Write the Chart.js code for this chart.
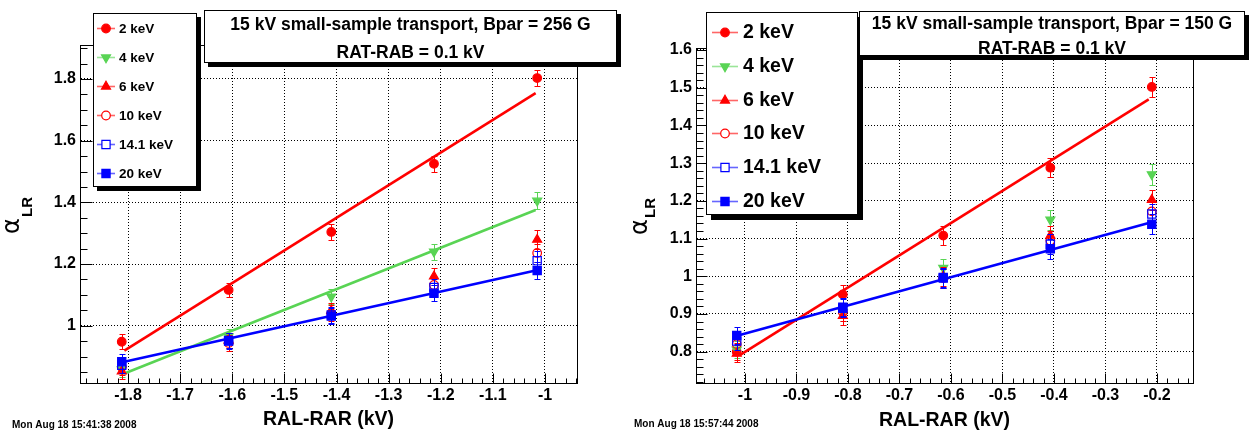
<!DOCTYPE html>
<html><head><meta charset="utf-8">
<script src="https://cdn.jsdelivr.net/npm/chart.js@4.4.1/dist/chart.umd.min.js"></script>
<style>
html,body{margin:0;padding:0;background:#fff;}
#wrap{position:relative;width:1249px;height:432px;overflow:hidden;}
.pane{position:absolute;top:0;height:432px;}
#p1{left:0;width:624px;} #p2{left:624px;width:625px;}
canvas{display:block;}
</style></head><body>
<div id="wrap">
 <div class="pane" id="p1"><canvas id="c1" width="624" height="432"></canvas></div>
 <div class="pane" id="p2"><canvas id="c2" width="625" height="432"></canvas></div>
</div>
<script>
// ---------------- data ----------------
const seriesLabels = ['2 keV', '4 keV', '6 keV', '10 keV', '14.1 keV', '20 keV'];

// Left panel: Bpar = 256 G
const leftTitle = ['15 kV small-sample transport, Bpar = 256 G', 'RAT-RAB = 0.1 kV'];
const leftDate = 'Mon Aug 18 15:41:38 2008';
const xLeft = [-1.812, -1.607, -1.410, -1.213, -1.015];
const left2keV  = [0.948, 1.116, 1.304, 1.525, 1.803];
const left4keV  = [0.858, 0.965, 1.094, 1.240, 1.405];
const left6keV  = [0.852, 0.952, 1.048, 1.160, 1.279];
const left10keV = [0.866, 0.944, 1.040, 1.132, 1.236];
const left14keV = [0.872, 0.952, 1.035, 1.124, 1.211];
const left20keV = [0.883, 0.950, 1.031, 1.105, 1.179];
const leftErr2keV  = [0.024, 0.022, 0.026, 0.026, 0.027];
const leftErr4keV  = [0.024, 0.025, 0.024, 0.026, 0.027];
const leftErr6keV  = [0.025, 0.025, 0.026, 0.028, 0.030];
const leftErr10keV = [0.025, 0.025, 0.026, 0.027, 0.029];
const leftErr14keV = [0.025, 0.025, 0.026, 0.027, 0.030];
const leftErr20keV = [0.024, 0.025, 0.026, 0.026, 0.028];
const xFitLeft = [-1.807, -1.018];
const leftFit2keV  = [0.919, 1.754];
const leftFit4keV  = [0.845, 1.375];
const leftFit20keV = [0.883, 1.179];

// Right panel: Bpar = 150 G
const rightTitle = ['15 kV small-sample transport, Bpar = 150 G', 'RAT-RAB = 0.1 kV'];
const rightDate = 'Mon Aug 18 15:57:44 2008';
const xRight = [-1.016, -0.810, -0.615, -0.407, -0.210];
const right2keV  = [0.800, 0.952, 1.108, 1.288, 1.502];
const right4keV  = [0.805, 0.905, 1.022, 1.150, 1.270];
const right6keV  = [0.795, 0.895, 1.000, 1.108, 1.203];
const right10keV = [0.820, 0.905, 0.995, 1.095, 1.172];
const right14keV = [0.828, 0.915, 0.997, 1.085, 1.165];
const right20keV = [0.843, 0.918, 0.995, 1.073, 1.138];
const rightErr2keV  = [0.022, 0.024, 0.025, 0.026, 0.027];
const rightErr4keV  = [0.023, 0.024, 0.025, 0.026, 0.027];
const rightErr6keV  = [0.023, 0.024, 0.025, 0.026, 0.027];
const rightErr10keV = [0.023, 0.024, 0.025, 0.026, 0.027];
const rightErr14keV = [0.023, 0.024, 0.025, 0.026, 0.027];
const rightErr20keV = [0.023, 0.024, 0.025, 0.026, 0.027];
const xFitRight = [-1.010, -0.216];
const rightFit2keV  = [0.791, 1.469];
const rightFit20keV = [0.844, 1.141];

const xAxisTitle = 'RAL-RAR (kV)';

// ---------------- styles ----------------
const RED = '#ff0000', GREEN = '#59d454', BLUE = '#0000ff';
const markerStyles = [
  {style: 'circle',   r: 4.3, rot: 0,   fill: true,  color: RED},
  {style: 'triangle', r: 5.2, rot: 180, fill: true,  color: GREEN},
  {style: 'triangle', r: 5.2, rot: 0,   fill: true,  color: RED},
  {style: 'circle',   r: 4.3, rot: 0,   fill: false, color: RED},
  {style: 'rect',     r: 5.8, rot: 0,   fill: false, color: BLUE},
  {style: 'rect',     r: 5.8, rot: 0,   fill: true,  color: BLUE}
];
const FONT = '"Liberation Sans", Arial, Helvetica, sans-serif';

function pointSet(k, xs, ys, errs) {
  const st = markerStyles[k];
  return {
    label: seriesLabels[k],
    data: xs.map((x, i) => ({x: x, y: ys[i]})),
    errors: errs,
    showLine: false,
    pointStyle: st.style, pointRadius: st.r, pointHoverRadius: st.r, pointRotation: st.rot,
    pointBackgroundColor: st.fill ? st.color : 'rgba(0,0,0,0)',
    pointBorderColor: st.color, pointBorderWidth: 1.2,
    order: 20 - 2 * k
  };
}
function fitSet(k, xs, ys) {
  const st = markerStyles[k];
  return {
    label: seriesLabels[k] + ' fit',
    data: xs.map((x, i) => ({x: x, y: ys[i]})),
    showLine: true, pointRadius: 0, pointHoverRadius: 0,
    borderColor: st.color, borderWidth: 2.6, fill: false,
    order: 19 - 2 * k
  };
}

function decorPlugin(P) {
  return {
    id: 'rootdecor',
    beforeDatasetDraw(chart, args) {
      const ds = chart.data.datasets[args.index];
      if (!ds.errors) return;
      const ys = chart.scales.y, ctx = chart.ctx;
      ctx.save();
      ctx.strokeStyle = ds.pointBorderColor; ctx.lineWidth = 1;
      args.meta.data.forEach((el, i) => {
        const v = ds.data[i].y, e = ds.errors[i];
        const x = Math.round(el.x) + 0.5;
        const y1 = Math.round(ys.getPixelForValue(v + e)) + 0.5;
        const y2 = Math.round(ys.getPixelForValue(v - e)) + 0.5;
        ctx.beginPath();
        ctx.moveTo(x, y1); ctx.lineTo(x, y2);
        ctx.moveTo(x - 3, y1); ctx.lineTo(x + 3, y1);
        ctx.moveTo(x - 3, y2); ctx.lineTo(x + 3, y2);
        ctx.stroke();
      });
      ctx.restore();
    },
    afterDraw(chart) {
      const ctx = chart.ctx, a = chart.chartArea;
      const xs = chart.scales.x, ys = chart.scales.y;
      ctx.save();
      // frame top/right
      ctx.strokeStyle = '#000'; ctx.lineWidth = 1;
      ctx.beginPath();
      const T = Math.round(a.top) + 0.5, R = Math.round(a.right) + 0.5;
      const B = Math.round(a.bottom) + 0.5, L = Math.round(a.left) + 0.5;
      ctx.moveTo(L, T); ctx.lineTo(R, T); ctx.lineTo(R, B);
      ctx.stroke();
      // ticks
      ctx.beginPath();
      const xr = Math.round(P.xMajor / P.xMinor);
      for (let i = Math.ceil(xs.min / P.xMinor); i * P.xMinor <= xs.max + 1e-9; i++) {
        const px = Math.round(xs.getPixelForValue(i * P.xMinor)) + 0.5;
        const len = (i % xr === 0) ? P.xTickMajor : P.xTickMinor;
        ctx.moveTo(px, B); ctx.lineTo(px, B - len);
      }
      const yr = Math.round(P.yMajor / P.yMinor);
      for (let i = Math.ceil(ys.min / P.yMinor - 1e-9); i * P.yMinor <= ys.max + 1e-9; i++) {
        const py = Math.round(ys.getPixelForValue(i * P.yMinor)) + 0.5;
        const len = (i % yr === 0) ? P.yTickMajor : P.yTickMinor;
        ctx.moveTo(L, py); ctx.lineTo(L + len, py);
      }
      ctx.stroke();

      // legend
      const lg = P.legend;
      ctx.fillStyle = '#000';
      ctx.fillRect(lg.x + lg.sh, lg.y + lg.sh, lg.w, lg.h);
      ctx.fillStyle = '#fff';
      ctx.fillRect(lg.x, lg.y, lg.w, lg.h);
      ctx.strokeStyle = '#000'; ctx.lineWidth = 1;
      ctx.strokeRect(lg.x + 0.5, lg.y + 0.5, lg.w - 1, lg.h - 1);
      ctx.font = lg.font; ctx.textBaseline = 'middle'; ctx.textAlign = 'left';
      seriesLabels.forEach((lab, k) => {
        const st = markerStyles[k];
        const cy = Math.round(lg.row0 + k * lg.dy) + 0.5;
        ctx.save();
        ctx.globalAlpha = 0.6;
        ctx.strokeStyle = st.color; ctx.lineWidth = 1.6;
        ctx.beginPath(); ctx.moveTo(lg.lx1, cy); ctx.lineTo(lg.lx2, cy); ctx.stroke();
        ctx.restore();
        ctx.save();
        ctx.fillStyle = st.fill ? st.color : '#fff';
        ctx.strokeStyle = st.color; ctx.lineWidth = 1.2;
        Chart.helpers.drawPoint(ctx, {pointStyle: st.style, radius: st.r, rotation: st.rot, borderWidth: 1.2},
          (lg.lx1 + lg.lx2) / 2, cy);
        ctx.restore();
        ctx.fillStyle = '#000';
        ctx.fillText(lab, lg.tx, cy + 0.5);
      });

      // title box
      const tb = P.tbox;
      ctx.fillStyle = '#000';
      ctx.fillRect(tb.x + tb.sh, tb.y + tb.sh, tb.w, tb.h);
      ctx.fillStyle = '#fff';
      ctx.fillRect(tb.x, tb.y, tb.w, tb.h);
      ctx.strokeRect(tb.x + 0.5, tb.y + 0.5, tb.w - 1, tb.h - 1);
      ctx.fillStyle = '#000'; ctx.font = tb.font; ctx.textAlign = 'center'; ctx.textBaseline = 'alphabetic';
      P.title.forEach((t, i) => ctx.fillText(t, tb.x + tb.w / 2, tb.base[i]));

      // x-axis title
      ctx.font = P.xTitleFont; ctx.textAlign = 'center'; ctx.textBaseline = 'alphabetic';
      ctx.fillText(xAxisTitle, (a.left + a.right) / 2, P.xTitleBase);

      // y-axis title alpha_LR
      ctx.save();
      ctx.translate(P.yt.x, P.yt.y);
      ctx.rotate(-Math.PI / 2);
      ctx.textAlign = 'left';
      ctx.font = P.yt.fontA;
      ctx.fillText('\u03B1', 0, 0);
      ctx.font = P.yt.fontSub;
      ctx.fillText('LR', P.yt.sdx, P.yt.sdy);
      ctx.restore();

      // date stamp
      ctx.font = 'bold 10px ' + FONT; ctx.textAlign = 'left';
      ctx.fillText(P.date, P.dateX, P.dateBase);
      ctx.restore();
    }
  };
}

function makeChart(id, P) {
  const datasets = [];
  P.series.forEach((s, k) => datasets.push(pointSet(k, P.x, s.y, s.err)));
  P.fits.forEach(f => datasets.push(fitSet(f.k, P.xFit, f.y)));
  const tickFont = {family: FONT, size: 16, weight: 'bold'};
  return new Chart(document.getElementById(id), {
    type: 'scatter',
    data: {datasets: datasets},
    options: {
      responsive: false, animation: false, devicePixelRatio: 1,
      layout: {padding: {left: 0, top: P.area.top, right: P.area.padRight, bottom: 0}},
      plugins: {legend: {display: false}, tooltip: {enabled: false}, title: {display: false}},
      scales: {
        x: {
          type: 'linear', position: 'bottom', min: P.xMin, max: P.xMax,
          afterFit: s => { s.height = 432 - P.area.bottom; },
          ticks: {stepSize: P.xMajor, includeBounds: false, color: '#000', font: tickFont, padding: 3,
                  maxRotation: 0, autoSkip: false, callback: v => String(+(+v).toFixed(3))},
          grid: {color: '#000', lineWidth: 1, drawTicks: false},
          border: {display: true, color: '#000', width: 1, dash: [1, 2]}
        },
        y: {
          type: 'linear', position: 'left', min: P.yMin, max: P.yMax,
          afterFit: s => { s.width = P.area.left; },
          ticks: {stepSize: P.yMajor, includeBounds: false, color: '#000', font: tickFont, padding: 4,
                  callback: v => String(+(+v).toFixed(3))},
          grid: {color: '#000', lineWidth: 1, drawTicks: false},
          border: {display: true, color: '#000', width: 1, dash: [1, 2]}
        }
      }
    },
    plugins: [decorPlugin(P)]
  });
}

makeChart('c1', {
  x: xLeft, xFit: xFitLeft,
  series: [
    {y: left2keV, err: leftErr2keV}, {y: left4keV, err: leftErr4keV}, {y: left6keV, err: leftErr6keV},
    {y: left10keV, err: leftErr10keV}, {y: left14keV, err: leftErr14keV}, {y: left20keV, err: leftErr20keV}
  ],
  fits: [{k: 0, y: leftFit2keV}, {k: 1, y: leftFit4keV}, {k: 5, y: leftFit20keV}],
  area: {left: 80, top: 45, padRight: 47, bottom: 383},
  xMin: -1.8921, xMax: -0.9386, yMin: 0.8142, yMax: 1.9102,
  xMajor: 0.1, xMinor: 0.02, yMajor: 0.2, yMinor: 0.05,
  xTickMajor: 10, xTickMinor: 5, yTickMajor: 12, yTickMinor: 7,
  legend: {x: 93, y: 13, w: 104, h: 174, sh: 4, font: 'bold 13.5px ' + FONT,
           row0: 28.3, dy: 28.9, lx1: 97, lx2: 115, tx: 119},
  tbox: {x: 204, y: 10, w: 413, h: 53, sh: 4, font: 'bold 17.5px ' + FONT, base: [30, 58]},
  title: leftTitle,
  xTitleFont: 'bold 19.5px ' + FONT, xTitleBase: 425,
  yt: {x: 19, y: 234, sdx: 17, sdy: 13, fontA: '24px "DejaVu Sans"', fontSub: 'bold 15px ' + FONT},
  date: leftDate, dateX: 12, dateBase: 428
});

makeChart('c2', {
  x: xRight, xFit: xFitRight,
  series: [
    {y: right2keV, err: rightErr2keV}, {y: right4keV, err: rightErr4keV}, {y: right6keV, err: rightErr6keV},
    {y: right10keV, err: rightErr10keV}, {y: right14keV, err: rightErr14keV}, {y: right20keV, err: rightErr20keV}
  ],
  fits: [{k: 0, y: rightFit2keV}, {k: 5, y: rightFit20keV}],
  area: {left: 72, top: 48, padRight: 56, bottom: 383},
  xMin: -1.0951, xMax: -0.130, yMin: 0.717, yMax: 1.6053,
  xMajor: 0.1, xMinor: 0.02, yMajor: 0.1, yMinor: 0.02,
  xTickMajor: 10, xTickMinor: 5, yTickMajor: 11, yTickMinor: 7,
  legend: {x: 82, y: 12, w: 152, h: 203, sh: 5, font: 'bold 19.5px ' + FONT,
           row0: 32.3, dy: 33.7, lx1: 88, lx2: 114, tx: 119},
  tbox: {x: 235, y: 11, w: 386, h: 45, sh: 4, font: 'bold 17.5px ' + FONT, base: [28.5, 54]},
  title: rightTitle,
  xTitleFont: 'bold 19.5px ' + FONT, xTitleBase: 426,
  yt: {x: 23, y: 235, sdx: 17, sdy: 8, fontA: '24px "DejaVu Sans"', fontSub: 'bold 15px ' + FONT},
  date: rightDate, dateX: 10, dateBase: 427
});
</script>
</body></html>
